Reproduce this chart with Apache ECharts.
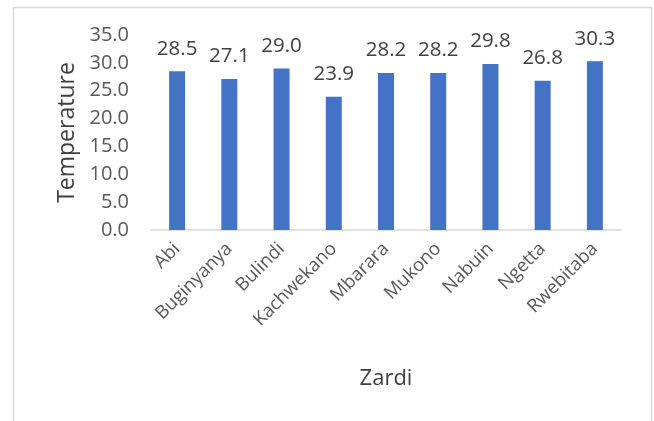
<!DOCTYPE html>
<html>
<head>
<meta charset="utf-8">
<script src="https://cdn.jsdelivr.net/npm/echarts@6/dist/echarts.min.js"></script>
<style>
  html, body { margin: 0; padding: 0; background: #fff; }
  #main { width: 654px; height: 421px; }
</style>
</head>
<body>
<div id="main"></div>
<script>
// values
const districts = ['Abi', 'Buginyanya', 'Bulindi', 'Kachwekano', 'Mbarara', 'Mukono', 'Nabuin', 'Ngetta', 'Rwebitaba'];
const temperature = [28.5, 27.1, 29.0, 23.9, 28.2, 28.2, 29.8, 26.8, 30.3];
const yTicks = [0, 5, 10, 15, 20, 25, 30, 35];

const font = 'Open Sans';
const chart = echarts.init(document.getElementById('main'));

chart.setOption({
    animation: false,
    textStyle: { fontFamily: font },
    graphic: [
        {
            type: 'rect',
            shape: { x: 13.5, y: 7.5, width: 638, height: 430 },
            style: { fill: null, stroke: '#d9d9d9', lineWidth: 1.5 }
        }
    ],
    grid: { left: 151, right: 33, top: 35, bottom: 191 },
    xAxis: {
        type: 'category',
        data: districts,
        name: 'Zardi',
        nameLocation: 'middle',
        nameGap: 138,
        nameTextStyle: { color: '#404040', fontSize: 22, fontFamily: font },
        axisLine: { lineStyle: { color: '#d9d9d9', width: 1.5 } },
        axisTick: { show: false },
        axisLabel: {
            rotate: 45,
            interval: 0,
            margin: 16,
            color: '#595959',
            fontSize: 18.5,
            fontFamily: font
        }
    },
    yAxis: {
        type: 'value',
        min: yTicks[0],
        max: yTicks[yTicks.length - 1],
        interval: 5,
        name: 'Temperature',
        nameLocation: 'middle',
        nameGap: 70,
        nameTextStyle: { color: '#404040', fontSize: 23, fontFamily: font },
        axisLine: { show: false },
        axisTick: { show: false },
        splitLine: { show: false },
        axisLabel: {
            margin: 22,
            color: '#595959',
            fontSize: 20,
            fontFamily: font,
            formatter: v => v.toFixed(1)
        }
    },
    series: [
        {
            type: 'bar',
            data: temperature,
            barWidth: 16,
            itemStyle: { color: '#4472C4' },
            label: {
                show: true,
                position: 'top',
                distance: 12,
                color: '#404040',
                fontSize: 20.5,
                fontFamily: font,
                formatter: p => p.value.toFixed(1)
            }
        }
    ]
});
</script>
</body>
</html>
